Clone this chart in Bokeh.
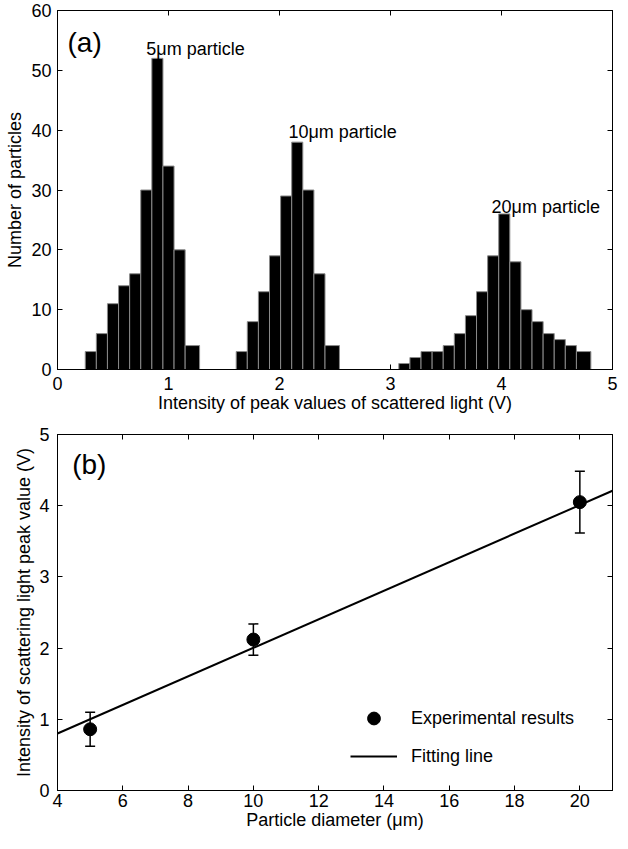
from bokeh.plotting import figure
from bokeh.layouts import column
from bokeh.models import (Range1d, FixedTicker, LinearAxis, Label, Legend, LegendItem,
                          Whisker, ColumnDataSource, TeeHead)
from bokeh.embed import file_html
from bokeh.resources import INLINE

FONT = "Liberation Sans"
FS = "18px"

# ---------------- Panel (a) data: histograms ----------------
g1_edges = [0.25, 0.35, 0.45, 0.55, 0.65, 0.75, 0.85, 0.95, 1.05, 1.15, 1.28]
g1_counts = [3, 6, 11, 14, 16, 30, 52, 34, 20, 4]
g2_edges = [1.61, 1.71, 1.81, 1.91, 2.01, 2.11, 2.21, 2.31, 2.41, 2.54]
g2_counts = [3, 8, 13, 19, 29, 38, 30, 16, 4]
g3_edges = [3.075, 3.175, 3.275, 3.375, 3.475, 3.575, 3.675, 3.775, 3.875, 3.975,
            4.075, 4.175, 4.275, 4.375, 4.475, 4.575, 4.675, 4.805]
g3_counts = [1, 2, 3, 3, 4, 6, 9, 13, 19, 26, 18, 10, 8, 6, 5, 4, 3]
a_xticks = [0, 1, 2, 3, 4, 5]
a_yticks = [0, 10, 20, 30, 40, 50, 60]
a_labels = ["5\u03bcm particle", "10\u03bcm particle", "20\u03bcm particle"]
a_label_x = [0.80, 2.08, 3.91]
a_label_y = [53.6, 39.7, 27.1]

# ---------------- Panel (b) data ----------------
diam = [5, 10, 20]
volt = [0.86, 2.12, 4.05]
verr = [0.24, 0.22, 0.435]
fit_x = [4, 21]
fit_y = [0.80, 4.21]
b_xticks = [4, 6, 8, 10, 12, 14, 16, 18, 20]
b_yticks = [0, 1, 2, 3, 4, 5]


def style(p, xt, yt, xstand, ystand, xlab_stand, ylab_stand, xlabel, ylabel):
    p.grid.visible = False
    p.outline_line_color = "black"
    p.outline_line_width = 1
    p.background_fill_color = "white"
    p.border_fill_color = "white"
    for ax, ticks, st, lst, lab in ((p.below[0], xt, xstand, xlab_stand, xlabel),
                                     (p.left[0], yt, ystand, ylab_stand, ylabel)):
        ax.axis_label = lab
        ax.ticker = FixedTicker(ticks=ticks)
        ax.major_tick_in = 5
        ax.major_tick_out = 0
        ax.minor_tick_line_color = None
        ax.axis_line_color = "black"
        ax.major_tick_line_color = "black"
        ax.major_label_text_font = FONT
        ax.major_label_text_font_size = FS
        ax.major_label_text_color = "black"
        ax.major_label_standoff = st
        ax.axis_label_text_font = FONT
        ax.axis_label_text_font_size = FS
        ax.axis_label_text_font_style = "normal"
        ax.axis_label_text_color = "black"
        ax.axis_label_standoff = lst
    # mirrored ticks on top and right
    top = LinearAxis(ticker=FixedTicker(ticks=xt), major_tick_in=5, major_tick_out=0,
                     minor_tick_line_color=None, major_label_standoff=0,
                     major_label_overrides={t: "" for t in xt})
    right = LinearAxis(ticker=FixedTicker(ticks=yt), major_tick_in=5, major_tick_out=0,
                       minor_tick_line_color=None, major_label_standoff=0,
                       major_label_overrides={t: "" for t in yt})
    p.add_layout(top, "above")
    p.add_layout(right, "right")


# ---------------- Figure (a) ----------------
pa = figure(width=620, height=420, output_backend="svg", toolbar_location=None,
            x_range=Range1d(0, 5), y_range=Range1d(0, 60),
            min_border_left=57, min_border_right=6, min_border_top=10, min_border_bottom=51)
style(pa, a_xticks, a_yticks, 7, 6, 0, 3,
      "Intensity of peak values of scattered light (V)", "Number of particles")

left, right, top = [], [], []
for edges, counts in ((g1_edges, g1_counts), (g2_edges, g2_counts), (g3_edges, g3_counts)):
    left += edges[:-1]
    right += edges[1:]
    top += counts
pa.quad(left=left, right=right, bottom=0, top=top, fill_color="black",
        line_color="#8a8a8a", line_width=1)

pa.add_layout(Label(x=0.09, y=54.7, text="(a)", text_font=FONT, text_font_size="28px",
                    text_color="black", text_baseline="alphabetic"))
for t, x, y in zip(a_labels, a_label_x, a_label_y):
    pa.add_layout(Label(x=x, y=y, text=t, text_font=FONT, text_font_size=FS,
                        text_color="black", text_baseline="alphabetic"))

# ---------------- Figure (b) ----------------
pb = figure(width=620, height=413, output_backend="svg", toolbar_location=None,
            x_range=Range1d(4, 21), y_range=Range1d(0, 5),
            min_border_left=54, min_border_right=8, min_border_top=14, min_border_bottom=43)
style(pb, b_xticks, b_yticks, 3, 8, 0, 2,
      "Particle diameter (\u03bcm)", "Intensity of scattering light peak value (V)")

r_fit = pb.line(fit_x, fit_y, line_color="black", line_width=2)
src = ColumnDataSource(dict(x=diam, y=volt,
                            upper=[v + e for v, e in zip(volt, verr)],
                            lower=[v - e for v, e in zip(volt, verr)]))
pb.add_layout(Whisker(source=src, base="x", upper="upper", lower="lower",
                      line_color="black", line_width=1.5,
                      upper_head=TeeHead(size=10, line_width=1.5, line_color="black"),
                      lower_head=TeeHead(size=10, line_width=1.5, line_color="black")))
r_pts = pb.scatter("x", "y", source=src, size=13, fill_color="black", line_color="black")

pb.add_layout(Label(x=4.45, y=4.58, text="(b)", text_font=FONT, text_font_size="28px",
                    text_color="black", text_baseline="alphabetic"))

legend = Legend(items=[LegendItem(label="Experimental results", renderers=[r_pts]),
                       LegendItem(label="Fitting line", renderers=[r_fit])],
                location=(293, 18), glyph_width=47, glyph_height=32, label_height=20,
                spacing=6, padding=0, margin=0, label_standoff=14,
                label_text_font=FONT, label_text_font_size=FS, label_text_color="black",
                border_line_color=None, background_fill_alpha=0)
pb.add_layout(legend)

layout = column(pa, pb, spacing=0)
open("out.html", "w").write(file_html(layout, INLINE))
